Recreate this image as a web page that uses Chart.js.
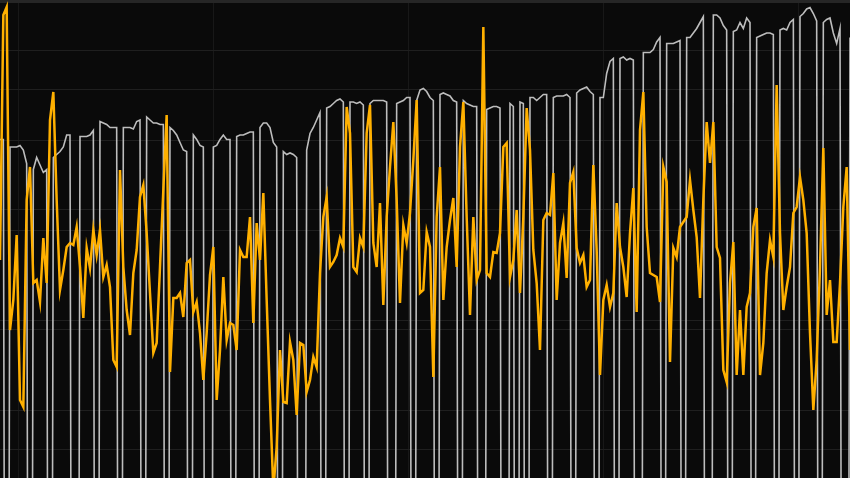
<!DOCTYPE html>
<html>
<head>
<meta charset="utf-8">
<script src="https://cdn.jsdelivr.net/npm/chart.js@4.4.1/dist/chart.umd.min.js"></script>
<style>
  html, body { margin: 0; padding: 0; background: #0a0a0a; }
  #wrap { width: 850px; height: 478px; }
</style>
</head>
<body>
<div id="wrap"><canvas id="c"></canvas></div>
<script>
// orange series (left axis)
const orange = [
  48, 97, 98.6, 34, 40, 53, 20, 18.6, 60, 66.6, 43.4, 44, 39.6, 52.4, 43.4, 76,
  81.6, 60, 42, 46, 50.6, 51.4, 51, 54.6, 46.6, 36.4, 50.4, 46.4, 54, 49, 54, 44.6,
  47, 42.6, 28, 26.6, 66, 46.6, 38, 33, 45.4, 50, 60.6, 63, 53.4, 41.4, 29.4, 31.4,
  46.6, 62, 77, 25.6, 40.4, 40.4, 41.4, 36.6, 47.4, 48, 37.6, 39.6, 33.4, 24, 33.4, 45,
  50.6, 20, 30, 44.6, 32, 35.4, 35, 30, 50, 48.6, 48.6, 56.6, 35.4, 55.4, 48, 61.4,
  40, 20, 2, 10.6, 30, 19.6, 19.4, 31.6, 28, 17, 31.4, 31, 21.6, 24, 28.6, 26.6,
  45.4, 56.6, 60.6, 46.6, 47.6, 49, 52.4, 50.6, 78.6, 73.4, 46.6, 45.6, 52.4, 50.6, 73.4, 79,
  51.4, 46.6, 59.4, 39, 56.6, 66.6, 75.6, 60, 39.4, 55, 51.4, 57.4, 68, 80, 41.4, 42,
  53.6, 50.6, 24.6, 56.6, 66.6, 40, 50.6, 56, 60.4, 46.6, 70.6, 79.6, 56.6, 37, 56.6, 44,
  46, 94.6, 45.4, 44.6, 49.6, 49.4, 53.4, 70.6, 71.4, 44.6, 48, 58, 41.4, 56.6, 78.4, 70,
  50, 43.4, 30, 56, 57.4, 57, 65.4, 40, 51.4, 55.4, 44.4, 63.4, 65.6, 50.4, 47.4, 49,
  42.6, 44, 67, 50, 25, 40, 43, 38.6, 41.4, 59.4, 50.6, 46.6, 40.6, 53.4, 62.4, 37.6,
  74, 81.6, 54.6, 45.4, 45, 44.6, 39.6, 66.6, 63.6, 27.6, 50.4, 48.6, 54.6, 55.6, 56.6, 64,
  58, 52.6, 40.4, 60, 75.6, 67.4, 75.6, 50.6, 48.4, 26, 23.6, 43.4, 51.6, 25, 38, 25,
  38.6, 41.4, 54.6, 58.4, 25, 31.4, 45.4, 52, 48.6, 83, 53.4, 38, 42.6, 46.6, 57.4, 58.6,
  64.6, 60, 53.4, 33.4, 18, 28, 46.6, 70.4, 37, 44, 31.6, 31.6, 43.4, 58.6, 66.6, 30
];

// gray series (right axis), drops to 0
const gray = [
  90.7, 90.7, 0, 90.2, 90.2, 90.2, 90.3, 90, 89.1, 0, 88.7, 89.5, 89, 88.5, 88.7, 0,
  89.5, 89.7, 89.9, 90.2, 91, 91, 0, 0, 90.9, 90.9, 90.9, 91, 91.3, 0, 91.9, 91.8,
  91.7, 91.5, 91.5, 91.5, 0, 91.5, 91.5, 91.5, 91.4, 91.9, 92, 0, 92.2, 92, 91.8, 91.8,
  91.7, 91.7, 0, 91.5, 91.3, 91, 90.5, 90, 89.9, 0, 91, 90.7, 90.3, 90.2, 0, 0,
  90.2, 90.3, 90.7, 91, 90.7, 90.7, 0, 90.9, 91, 91, 91.1, 91.2, 91.2, 0, 91.5, 91.8,
  91.8, 91.5, 90.5, 90.2, 0, 89.9, 89.7, 89.8, 89.7, 89.5, 0, 0, 90, 91.1, 91.5, 92,
  92.5, 0, 92.8, 92.9, 93.1, 93.3, 93.4, 93.2, 0, 93.2, 93.2, 93.1, 93.2, 93, 0, 93.1,
  93.3, 93.3, 93.3, 93.3, 93.2, 0, 0, 93.1, 93.2, 93.3, 93.5, 93.5, 0, 93.3, 94, 94.1,
  93.9, 93.5, 93.3, 0, 93.7, 93.8, 93.7, 93.6, 93.3, 93.2, 0, 93.3, 93.1, 93, 92.9, 92.9,
  0, 0, 92.7, 92.8, 92.9, 92.9, 92.8, 0, 0, 93.1, 92.9, 0, 93.2, 93.1, 0, 93.5,
  93.5, 93.3, 93.5, 93.7, 93.7, 0, 93.5, 93.6, 93.6, 93.6, 93.7, 93.5, 0, 93.8, 94, 94.1,
  94.2, 93.9, 93.7, 0, 93.5, 93.5, 95.1, 95.9, 96.1, 0, 96.1, 96.2, 96, 96.1, 96, 0,
  0, 96.5, 96.5, 96.5, 96.7, 97.2, 97.5, 0, 97.1, 97.1, 97.1, 97.2, 97.3, 0, 97.5, 97.5,
  97.8, 98.1, 98.5, 98.9, 0, 0, 99, 99, 98.8, 98.3, 98, 0, 97.9, 98, 98.5, 98.1,
  98.8, 98.5, 0, 97.5, 97.6, 97.7, 97.8, 97.8, 97.7, 0, 98, 98.1, 98, 98.5, 98.7, 0,
  98.9, 99.1, 99.4, 99.5, 99.1, 98.6, 0, 98.5, 98.7, 98.8, 97.8, 97.1, 98.1, 0, 0, 97.5
];

const labels = orange.map((_, i) => i);

// grid positions
const xTicks = [5.5, 64, 122.5, 181, 239.5];
const orangeTicks = [18, 36, 54, 72, 90];
const grayTicks = [70, 78, 86, 94];

function useTicks(list) {
  return function (scale) { scale.ticks = list.map(v => ({ value: v })); };
}
function noSpace(scale) {
  if (scale.isHorizontal()) scale.height = 0; else scale.width = 0;
}

new Chart(document.getElementById('c'), {
  type: 'line',
  data: {
    labels: labels,
    datasets: [{
      data: orange,
      yAxisID: 'y',
      borderColor: '#ffb000',
      borderWidth: 2.5,
      pointRadius: 0,
      tension: 0
    }, {
      data: gray,
      yAxisID: 'y2',
      borderColor: '#bdbdbd',
      borderWidth: 1.6,
      pointRadius: 0,
      tension: 0
    }]
  },
  options: {
    responsive: true,
    maintainAspectRatio: false,
    animation: false,
    layout: { padding: 0 },
    plugins: { legend: { display: false }, tooltip: { enabled: false } },
    scales: {
      x: {
        type: 'linear',
        position: 'top',
        min: 0,
        max: labels.length - 1,
        afterBuildTicks: useTicks(xTicks),
        afterFit: noSpace,
        ticks: { display: false },
        grid: { color: '#181818', drawTicks: false },
        border: { display: true, color: '#262626', width: 5 }
      },
      y: {
        position: 'left',
        min: 4.4,
        max: 100,
        afterBuildTicks: useTicks(orangeTicks),
        afterFit: noSpace,
        ticks: { display: false },
        grid: { color: '#1f1f1f', drawTicks: false },
        border: { display: false }
      },
      y2: {
        position: 'right',
        min: 68.13,
        max: 100,
        afterBuildTicks: useTicks(grayTicks),
        afterFit: noSpace,
        ticks: { display: false },
        grid: { color: '#1f1f1f', drawTicks: false },
        border: { display: false }
      }
    }
  }
});
</script>
</body>
</html>
